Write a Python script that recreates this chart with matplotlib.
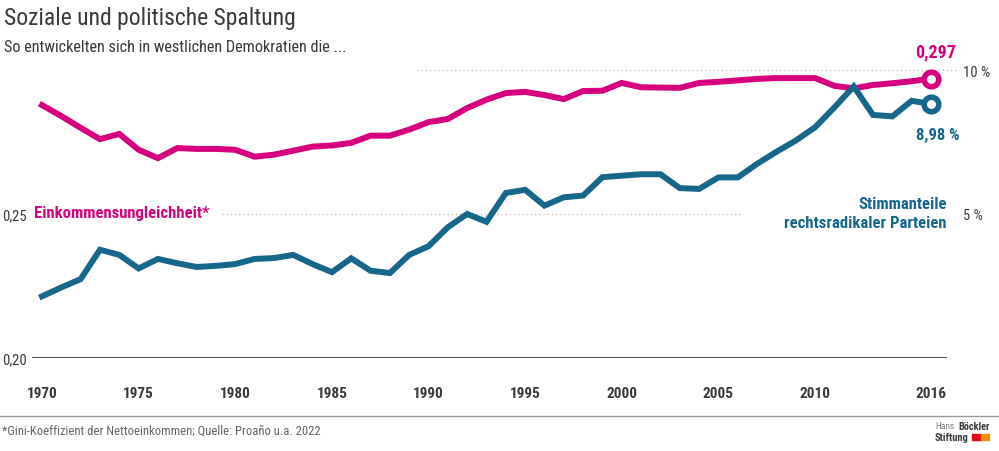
import matplotlib.pyplot as plt

plt.rcParams['font.family'] = ['Roboto Condensed', 'Archivo Narrow', 'Barlow Semi Condensed', 'DejaVu Sans']

jahre = list(range(1970, 2017))
# Gini-Koeffizient der Nettoeinkommen
gini = [0.2878, 0.2840, 0.2799, 0.2760, 0.2778, 0.2723, 0.2694, 0.2729, 0.2726, 0.2726,
        0.2723, 0.2699, 0.2706, 0.2720, 0.2734, 0.2738, 0.2747, 0.2772, 0.2772, 0.2793,
        0.2819, 0.2830, 0.2868, 0.2897, 0.2920, 0.2924, 0.2913, 0.2899, 0.2927, 0.2928,
        0.2955, 0.2940, 0.2939, 0.2938, 0.2955, 0.2959, 0.2964, 0.2969, 0.2972, 0.2972,
        0.2972, 0.2945, 0.2936, 0.2948, 0.2954, 0.2961, 0.2970]
# Stimmanteile rechtsradikaler Parteien in %
stimmen = [2.14, 2.45, 2.74, 3.76, 3.58, 3.11, 3.44, 3.29, 3.16, 3.20,
           3.26, 3.44, 3.47, 3.58, 3.26, 2.98, 3.46, 3.03, 2.95, 3.58,
           3.88, 4.54, 5.00, 4.73, 5.73, 5.84, 5.29, 5.58, 5.64, 6.28,
           6.33, 6.38, 6.38, 5.90, 5.87, 6.27, 6.27, 6.74, 7.16, 7.55,
           8.01, 8.70, 9.43, 8.44, 8.39, 8.93, 8.82]
jahr_ticks = [1970, 1975, 1980, 1985, 1990, 1995, 2000, 2005, 2010, 2016]

pink = "#d6007e"
blau = "#15688c"
grau = "#3a3a3a"
punkt = "#c9c1ad"

W, H = 999, 452
fig = plt.figure(figsize=(W / 100, H / 100), dpi=100)

def fx(x):
    return x / W

def fy(y):
    return 1 - y / H

# Achse: 1970 bei x=42, 2016 bei x=931, 0,20 bei y=359
ax = fig.add_axes([fx(32), fy(359), (947 - 32) / W, (359 - 56.6) / H])
ax.set_xlim(1970 - 10 / 19.33, 2016 + 16 / 19.33)
ax.set_ylim(0.20, 0.305)
for s in ax.spines.values():
    s.set_visible(False)

ax.axhline(0.20, color="#555555", lw=1.5, zorder=1)
ax.plot([1979.3, 2006.1], [0.25, 0.25], color=punkt, lw=1, ls=(0, (1, 2)), zorder=1)
ax.plot([1989.4, 2017.3], [0.30, 0.30], color=punkt, lw=1, ls=(0, (1, 2)), zorder=1, clip_on=False)

ax.plot(jahre, gini, color=pink, lw=4.3, solid_joinstyle="miter", zorder=3)
ax.plot(jahre[-1], gini[-1], "o", ms=10.5, mfc="white", mec=pink, mew=4, zorder=5, clip_on=False)

ax.set_xticks(jahr_ticks)
ax.set_xticklabels([str(j) for j in jahr_ticks], fontsize=11, fontweight="bold", color=grau)
ax.set_yticks([0.20, 0.25])
ax.set_yticklabels(["0,20", "0,25"], fontsize=10.5, color=grau, ha="left")
ax.tick_params(axis="x", length=0, pad=20)
ax.tick_params(axis="y", length=0, pad=21.5)

ax2 = ax.twinx()
ax2.set_ylim(0, 10.5)
for s in ax2.spines.values():
    s.set_visible(False)
ax2.plot(jahre, stimmen, color=blau, lw=4.3, solid_joinstyle="miter", zorder=3)
ax2.plot(jahre[-1], stimmen[-1], "o", ms=10.5, mfc="white", mec=blau, mew=4, zorder=5, clip_on=False)
ax2.set_yticks([5, 10])
ax2.set_yticklabels(["5 %", "10 %"], fontsize=10.5, color=grau)
ax2.tick_params(axis="y", length=0, pad=11.5)

# Beschriftungen
fig.text(fx(34), fy(214), "Einkommensungleichheit*", color=pink, fontsize=12,
         fontweight="bold", va="center", ha="left")
fig.text(fx(947), fy(205), "Stimmanteile", color=blau, fontsize=12,
         fontweight="bold", va="center", ha="right")
fig.text(fx(947), fy(224), "rechtsradikaler Parteien", color=blau, fontsize=12,
         fontweight="bold", va="center", ha="right")
fig.text(fx(936), fy(52), "0,297", color=pink, fontsize=13, fontweight="bold",
         va="center", ha="center")
fig.text(fx(938), fy(135), "8,98 %", color=blau, fontsize=12, fontweight="bold",
         va="center", ha="center")

fig.text(fx(4), fy(18), "Soziale und politische Spaltung", fontsize=17, color=grau,
         va="center", ha="left")
fig.text(fx(4), fy(48), "So entwickelten sich in westlichen Demokratien die ...", fontsize=11.7,
         color=grau, va="center", ha="left")

# Fußzeile
fig.add_artist(plt.Line2D([0, 1], [fy(416.5), fy(416.5)], color="#999999", lw=1))
fig.text(fx(2), fy(431), "*Gini-Koeffizient der Nettoeinkommen; Quelle: Proaño u.a. 2022",
         fontsize=9.1, color="#666666", va="center", ha="left")
fig.text(fx(935), fy(427), "Hans", fontsize=6.8, color=grau, fontweight="light", va="center", ha="left")
fig.text(fx(990), fy(427), "Böckler", fontsize=7.4, color=grau, fontweight="bold", va="center", ha="right")
fig.text(fx(935), fy(438), "Stiftung", fontsize=7.6, color=grau, fontweight="bold", va="center", ha="left")
fig.add_artist(plt.Rectangle((fx(972), fy(440.5)), 8.5 / W, 5.5 / H, color="#e30613"))
fig.add_artist(plt.Rectangle((fx(980.5), fy(440.5)), 8.5 / W, 5.5 / H, color="#f39200"))

plt.savefig("out.png", dpi=100)
